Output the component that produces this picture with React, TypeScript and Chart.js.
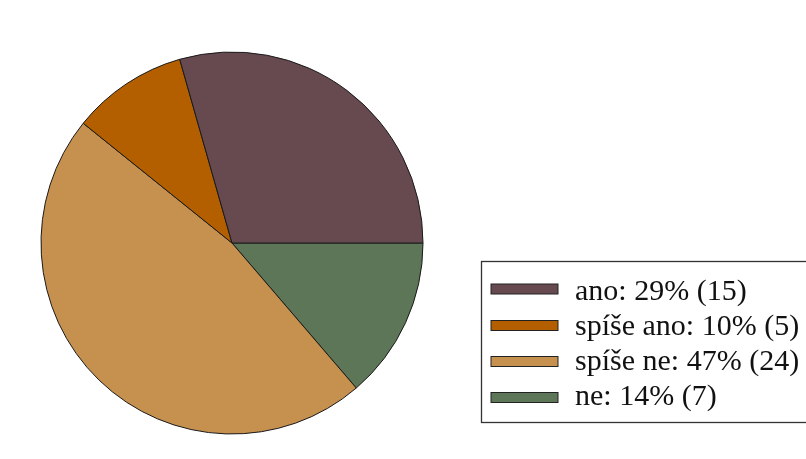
import React, { useEffect, useRef } from "react";
import { Chart, registerables } from "chart.js";

Chart.register(...registerables);

const categories = ["ano", "spíše ano", "spíše ne", "ne"];
const counts = [15, 5, 24, 7];
const colors = ["#674a50", "#b35f00", "#c6904f", "#5d7658"];

const WIDTH = 806;
const HEIGHT = 459;

const total = counts.reduce((a, b) => a + b, 0);
const legendLabels = categories.map(
  (c, i) => `${c}: ${Math.round((counts[i] / total) * 100)}% (${counts[i]})`
);

// Boxed legend on the lower right, swatches in category order.
const swatchTops = [284, 320.5, 356.5, 392.5];
const textBaselines = [299.5, 334.8, 370, 405.2];

const boxLegend = {
  id: "boxLegend",
  afterDraw(chart: Chart) {
    const ctx = chart.ctx;
    ctx.save();
    ctx.strokeStyle = "#333333";
    ctx.lineWidth = 1.3;
    ctx.strokeRect(481.5, 261.5, 340, 161);
    legendLabels.forEach((label, i) => {
      const y = swatchTops[i];
      ctx.fillStyle = colors[i];
      ctx.fillRect(491, y, 67, 10);
      ctx.strokeStyle = "#222222";
      ctx.lineWidth = 1;
      ctx.strokeRect(491, y, 67, 10);
      ctx.fillStyle = "#111111";
      ctx.font = '30px "Liberation Serif", "Times New Roman", serif';
      ctx.textBaseline = "alphabetic";
      ctx.textAlign = "left";
      ctx.fillText(label, 575, textBaselines[i]);
    });
    ctx.restore();
  },
};

const whiteBackground = {
  id: "whiteBackground",
  beforeDraw(chart: Chart) {
    const ctx = chart.ctx;
    ctx.save();
    ctx.fillStyle = "#ffffff";
    ctx.fillRect(0, 0, chart.width, chart.height);
    ctx.restore();
  },
};

export default function App() {
  const canvasRef = useRef<HTMLCanvasElement | null>(null);

  useEffect(() => {
    if (!canvasRef.current) return;
    // Slices run counter-clockwise from 3 o'clock, so feed them reversed
    // into Chart.js, which draws clockwise.
    const order = [...categories.keys()].reverse();
    const chart = new Chart(canvasRef.current, {
      type: "pie",
      data: {
        labels: order.map((i) => categories[i]),
        datasets: [
          {
            data: order.map((i) => counts[i]),
            backgroundColor: order.map((i) => colors[i]),
            borderColor: "#1a1a1a",
            borderWidth: 1,
          },
        ],
      },
      options: {
        responsive: false,
        animation: false,
        rotation: 90,
        layout: {
          padding: { left: 40.5, top: 51.5, right: 382.5, bottom: 24.5 },
        },
        plugins: {
          legend: { display: false },
          tooltip: { enabled: false },
        },
      },
      plugins: [whiteBackground, boxLegend],
    });
    return () => chart.destroy();
  }, []);

  return (
    <div style={{ position: "fixed", left: 0, top: 0, width: WIDTH, height: HEIGHT, background: "#fff" }}>
      <canvas ref={canvasRef} width={WIDTH} height={HEIGHT} style={{ display: "block" }} />
    </div>
  );
}
